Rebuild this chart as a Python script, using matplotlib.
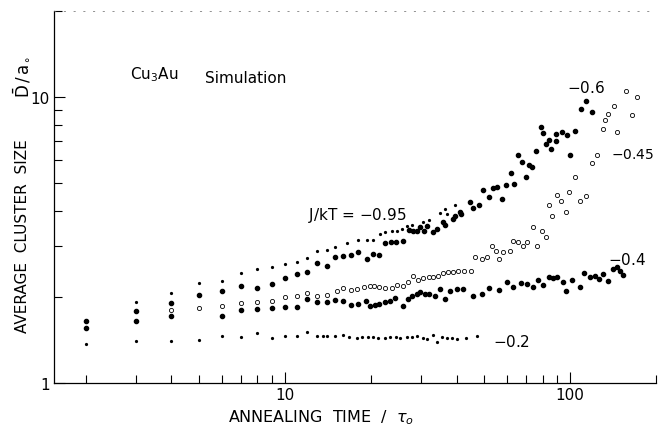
import matplotlib
matplotlib.use('Agg')
import matplotlib.pyplot as plt
import numpy as np

# J/kT = -0.95 (tiny dots)
t_095 = [3, 4, 5, 6, 7, 8, 9, 10, 11, 12, 13, 14, 15, 16.5, 18, 19.4, 20.4, 21.5, 22.4, 23.7,
         24.7, 25.7, 26.8, 28, 30.5, 32, 35, 36.4, 37, 39.5]
d_095 = [1.92, 2.06, 2.23, 2.27, 2.42, 2.50, 2.54, 2.60, 2.65, 2.73, 2.89, 2.91, 2.98, 3.08, 3.16, 3.16,
         3.16, 3.31, 3.37, 3.39, 3.39, 3.45, 3.53, 3.56, 3.65, 3.71, 3.92, 4.05, 3.89, 4.18]

# J/kT = -0.6 (filled dots)
t_06 = [2, 3, 4, 5, 6, 7, 8, 9, 10, 11, 12, 13, 14, 15, 16, 17, 18, 19.4, 20.4, 21.3,
        22.4, 23.5, 24.5, 26, 27.3, 28.1, 29.1, 29.8, 30.7, 31.5, 33, 34.2, 35.7, 36.4, 38.7, 39.5, 41, 41.5, 44.4, 45.5,
        47.8, 49.5, 52, 53.5, 55.5, 57.5, 59.5, 62, 63.5, 65.7, 67.7, 70, 71.8, 73.5, 76, 79, 80, 82.4, 84.5, 86,
        89.5, 89.5, 93.5, 97.5, 99.5, 104, 109, 113.5, 119]
d_06 = [1.65, 1.78, 1.90, 2.03, 2.10, 2.18, 2.15, 2.22, 2.33, 2.40, 2.44, 2.62, 2.56, 2.75, 2.78, 2.80, 2.87, 2.71, 2.82, 2.80,
        3.08, 3.11, 3.11, 3.13, 3.42, 3.39, 3.39, 3.50, 3.39, 3.53, 3.37, 3.45, 3.65, 3.56, 3.74, 3.83, 3.95, 3.89, 4.28, 4.08,
        4.18, 4.72, 4.46, 4.79, 4.83, 4.39, 4.91, 5.41, 4.95, 6.25, 5.91, 5.24, 5.77, 5.68, 6.45, 7.83, 7.46, 6.83, 7.05, 6.56,
        6.99, 7.40, 7.52, 7.34, 6.25, 7.58, 9.04, 9.64, 8.83]

# J/kT = -0.45 (open circles)
t_045 = [4, 5, 6, 7, 8, 9, 10, 11, 12, 13, 14, 15.2, 16, 17, 17.9, 19, 19.8, 20.5, 21.3, 22.4,
         23.7, 24.7, 26, 27, 28.1, 29.3, 30.5, 31.9, 33, 34.5, 35.7, 37.2, 38.7, 40.3, 42.5, 45, 46.4, 49, 51, 53,
         55, 56.5, 58, 61.5, 63, 65.7, 68.4, 70.5, 74, 76.5, 79.5, 82.4, 84, 86.5, 90, 93, 96.5, 99, 104, 108,
         114, 119, 124, 130, 132, 136, 143, 146, 157, 165, 172]
d_045 = [1.80, 1.83, 1.86, 1.90, 1.92, 1.93, 2.00, 2.01, 2.06, 2.01, 2.03, 2.10, 2.15, 2.11, 2.13, 2.16, 2.18, 2.18, 2.16, 2.15,
         2.15, 2.20, 2.18, 2.25, 2.36, 2.29, 2.33, 2.34, 2.34, 2.36, 2.42, 2.44, 2.44, 2.46, 2.46, 2.46, 2.75, 2.71, 2.75, 3.01,
         2.89, 2.71, 2.87, 2.89, 3.13, 3.11, 3.01, 3.11, 3.50, 3.01, 3.39, 3.23, 4.18, 3.82, 4.53, 4.32, 3.95, 4.64, 5.24, 4.32,
         4.50, 5.86, 6.25, 7.70, 8.28, 8.69, 9.27, 7.52, 10.5, 8.62, 10.0]

# J/kT = -0.4 (filled dots)
t_04 = [2, 3, 4, 6, 7, 8, 9, 10, 11, 12, 13, 14, 15, 16, 17, 18, 19.3, 19.8, 20.7, 21.3,
        22.4, 23.3, 24.3, 26, 27, 28, 29, 29.8, 31, 32, 33.7, 35, 36.3, 37.9, 40, 42, 45.5, 49, 52, 56.5,
        60, 63, 67, 70.5, 74, 77, 80.4, 84, 87, 90, 94.5, 96.5, 101.6, 108, 112, 117.5, 122, 126, 130, 136,
        141, 145.6, 150, 153.5]
d_04 = [1.56, 1.65, 1.71, 1.71, 1.80, 1.81, 1.83, 1.84, 1.84, 1.97, 1.92, 1.92, 1.95, 1.93, 1.87, 1.89, 1.93, 1.86, 1.87, 1.89,
        1.92, 1.93, 1.98, 1.86, 1.97, 2.01, 2.05, 2.08, 2.05, 2.05, 2.01, 2.13, 1.97, 2.10, 2.13, 2.13, 2.01, 2.05, 2.15, 2.11,
        2.25, 2.16, 2.23, 2.22, 2.16, 2.29, 2.20, 2.34, 2.33, 2.34, 2.25, 2.10, 2.29, 2.16, 2.42, 2.34, 2.36, 2.31, 2.40, 2.27,
        2.50, 2.54, 2.46, 2.38]

# J/kT = -0.2 (tiny dots)
t_02 = [2, 3, 4, 5, 6, 7, 8, 9, 10, 11, 12, 13, 13.6, 14, 15, 16, 16.8, 17.9, 18.6, 19.6,
        20.4, 21.2, 22.4, 23.3, 24.5, 25.3, 26.8, 27.9, 29, 30.5, 31.5, 33, 34.2, 35.5, 37, 38.5, 40, 43, 47]
d_02 = [1.37, 1.40, 1.40, 1.41, 1.46, 1.45, 1.50, 1.44, 1.46, 1.46, 1.51, 1.46, 1.46, 1.46, 1.46, 1.47, 1.45, 1.44, 1.45, 1.45,
        1.45, 1.44, 1.44, 1.45, 1.45, 1.44, 1.45, 1.45, 1.46, 1.44, 1.42, 1.47, 1.39, 1.45, 1.44, 1.44, 1.42, 1.44, 1.46]

x_major = [10, 100]
x_minor = [2, 3, 4, 5, 6, 7, 8, 9, 20, 30, 40, 50, 60, 70, 80, 90, 200]
y_major = [1, 10]
y_minor = [2, 3, 4, 5, 6, 7, 8, 9, 20]


def plot_clusters():
    fig = plt.figure(figsize=(6.58, 4.27), dpi=100)
    ax = fig.add_axes([0.082, 0.1007, 0.915, 0.872])
    ax.set_xscale('log')
    ax.set_yscale('log')

    ax.plot(t_095, d_095, ls='none', marker='o', ms=1.3, color='k')
    ax.plot(t_06, d_06, ls='none', marker='o', ms=3.0, color='k')
    ax.plot(t_045, d_045, ls='none', marker='o', ms=3.0, mfc='white', mec='k', mew=0.6)
    ax.plot(t_04, d_04, ls='none', marker='o', ms=3.0, color='k')
    ax.plot(t_02, d_02, ls='none', marker='o', ms=1.3, color='k')

    ax.set_xlim(1.55, 200)
    ax.set_ylim(1, 20)

    ax.set_xticks(x_major)
    ax.set_xticklabels(['10', '100'])
    ax.set_xticks(x_minor, minor=True)
    ax.set_xticklabels([], minor=True)
    ax.set_yticks(y_major)
    ax.set_yticklabels(['1', '10'])
    ax.set_yticks(y_minor, minor=True)
    ax.set_yticklabels([], minor=True)

    ax.tick_params(which='both', direction='in', top=False, right=False, width=0.8, labelsize=11, pad=3)
    ax.tick_params(which='major', length=8)
    ax.tick_params(which='minor', length=6)

    ax.spines['right'].set_visible(False)
    ax.spines['top'].set_linestyle((0, (2, 12)))
    ax.spines['top'].set_linewidth(0.5)
    ax.spines['top'].set_color('0.4')
    for s in ['left', 'bottom']:
        ax.spines[s].set_linewidth(0.9)

    fig.text(0.488, 0.022, r'ANNEALING  TIME  $/$  $\tau_o$', fontsize=11.5, ha='center', va='center')
    fig.text(0.034, 0.447, 'AVERAGE  CLUSTER  SIZE', rotation=90, fontsize=11, ha='center', va='center')
    fig.text(0.034, 0.82, r'$\bar{\mathrm{D}}\,/\,\mathrm{a}_{\circ}$', rotation=90, fontsize=12, ha='center', va='center')

    fig.text(0.198, 0.825, r'Cu$_3$Au', fontsize=11, va='center')
    fig.text(0.312, 0.815, 'Simulation', fontsize=11, va='center')

    fig.text(0.468, 0.496, r'J/kT = $-$0.95', fontsize=11, va='center')
    fig.text(0.862, 0.794, r'$-$0.6', fontsize=11, va='center')
    fig.text(0.928, 0.637, r'$-$0.45', fontsize=10, va='center')
    fig.text(0.924, 0.391, r'$-$0.4', fontsize=11, va='center')
    fig.text(0.749, 0.199, r'$-$0.2', fontsize=11, va='center')

    fig.savefig('out.png', dpi=100)
    plt.close()


plot_clusters()
